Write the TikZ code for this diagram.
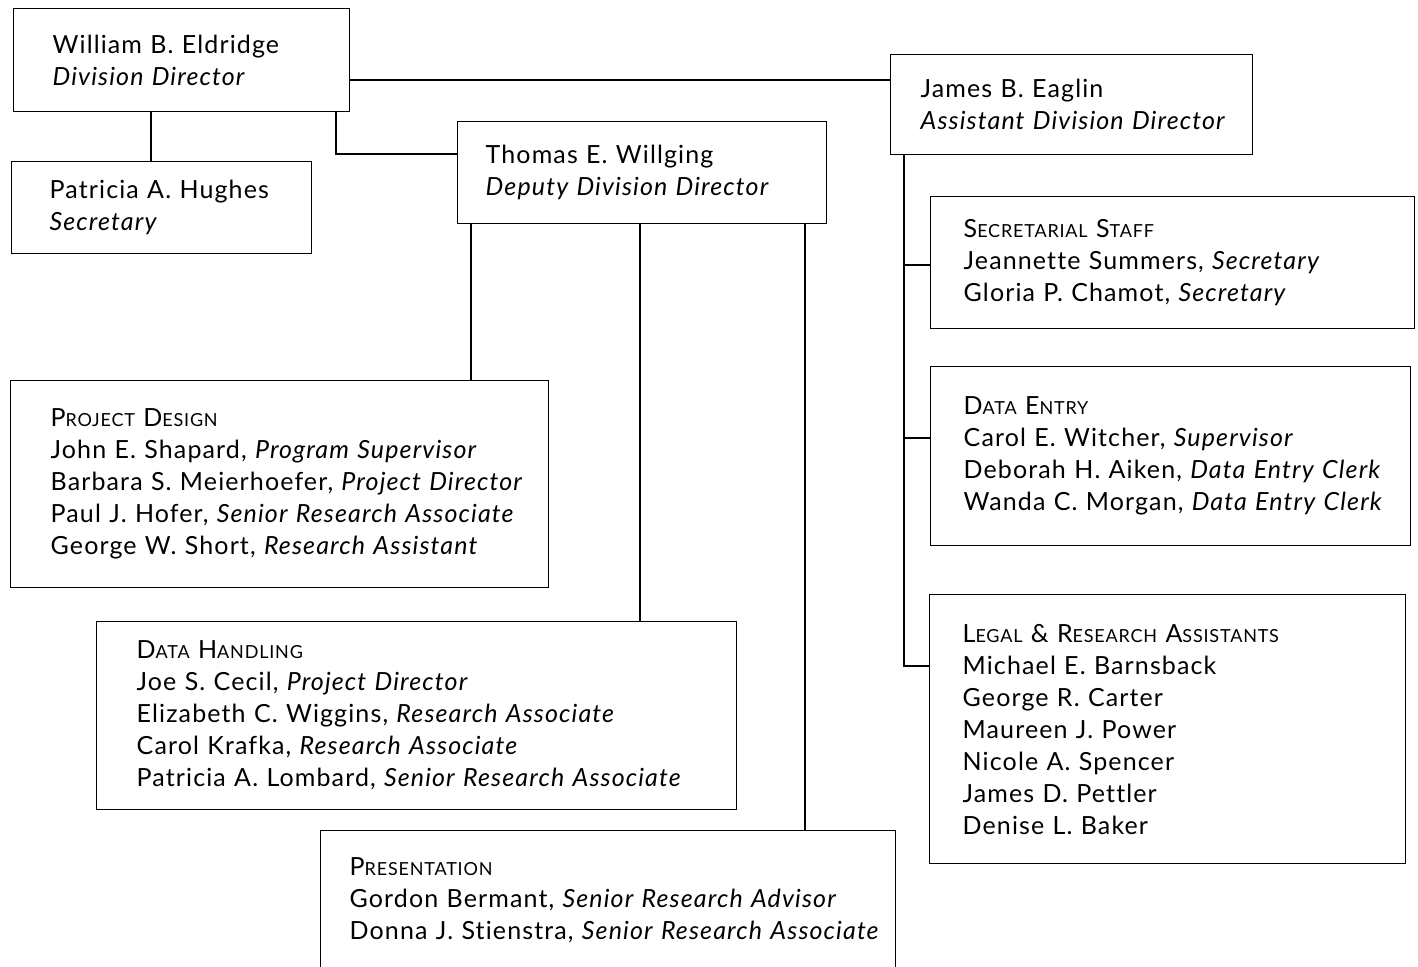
\documentclass[tikz,border=0pt]{standalone}
\usepackage{fontspec}
\setmainfont{Lato}[LetterSpace=4.5, Ligatures=NoCommon]
\newcommand{\hdcap}[2]{#1{\fontsize{18}{32}\selectfont #2}}
\begin{document}
\begin{tikzpicture}[x=1pt,y=-1pt,
  unit/.style={draw, line width=1.4pt, anchor=north west, align=left, inner sep=0pt,
    font=\fontsize{25}{32}\selectfont},
  lpad/.style={execute at begin node={\leftskip=#1pt}},
  every path/.style={line width=1.4pt}]
\useasboundingbox (0,0) rectangle (1418,966);
% directors
\node[unit, lpad=39, text width=336pt, minimum height=103pt] (eld) at (13,8){William B. Eldridge\\\textit{Division Director}};
\node[unit, lpad=38, text width=300pt, minimum height=92pt] (hug) at (11,161){Patricia A. Hughes\\\textit{Secretary}};
\node[unit, lpad=28, text width=369pt, minimum height=102pt] (wil) at (457,121){Thomas E. Willging\\\textit{Deputy Division Director}};
\node[unit, lpad=30, text width=362pt, minimum height=100pt] (eag) at (890,54){James B. Eaglin\\\textit{Assistant Division Director}};
% staff under the assistant director
\node[unit, lpad=33, text width=484pt, minimum height=132pt] (sec) at (930,196){\hdcap{S}{ECRETARIAL} \hdcap{S}{TAFF}\\Jeannette Summers, \textit{Secretary}\\Gloria P. Chamot, \textit{Secretary}};
\node[unit, lpad=33, text width=480pt, minimum height=179pt] (den) at (930,366){\hdcap{D}{ATA} \hdcap{E}{NTRY}\\Carol E. Witcher, \textit{Supervisor}\\Deborah H. Aiken, \textit{Data Entry Clerk}\\Wanda C. Morgan, \textit{Data Entry Clerk}};
\node[unit, lpad=33, text width=476pt, minimum height=269pt] (leg) at (929,594){\hdcap{L}{EGAL} \& \hdcap{R}{ESEARCH} \hdcap{A}{SSISTANTS}\\Michael E. Barnsback\\George R. Carter\\Maureen J. Power\\Nicole A. Spencer\\James D. Pettler\\Denise L. Baker};
% staff under the deputy director
\node[unit, lpad=40, text width=538pt, minimum height=207pt] (prj) at (10,380){\hdcap{P}{ROJECT} \hdcap{D}{ESIGN}\\John E. Shapard, \textit{Program Supervisor}\\Barbara S. Meierhoefer, \textit{Project Director}\\Paul J. Hofer, \textit{Senior Research Associate}\\George W. Short, \textit{Research Assistant}};
\node[unit, lpad=40, text width=640pt, minimum height=188pt] (dat) at (96,621){\hdcap{D}{ATA} \hdcap{H}{ANDLING}\\Joe S. Cecil, \textit{Project Director}\\Elizabeth C. Wiggins, \textit{Research Associate}\\Carol Krafka, \textit{Research Associate}\\Patricia A. Lombard, \textit{Senior Research Associate}};
\node[unit, lpad=29, text width=575pt, minimum height=140pt] (pre) at (320,830){\hdcap{P}{RESENTATION}\\Gordon Bermant, \textit{Senior Research Advisor}\\Donna J. Stienstra, \textit{Senior Research Associate}};
% connectors
\coordinate (ea) at (349,80);
\draw[](ea) -- (ea -| eag.west);
\coordinate (eh) at (151,111);
\draw[](eh) -- (eh |- hug.north);
\coordinate (ew) at (336,154);
\draw[](ew |- eld.south) -- (ew) -- (ew -| wil.west);
\coordinate (wp) at (471,223);
\draw[](wp) -- (wp |- prj.north);
\coordinate (wd) at (640,223);
\draw[](wd) -- (wd |- dat.north);
\coordinate (wr) at (805,223);
\draw[](wr) -- (wr |- pre.north);
\coordinate (as) at (904,265);
\coordinate (ad) at (904,438);
\coordinate (al) at (904,666);
\draw[](as |- eag.south) -- (al) -- (al -| leg.west);
\draw[](as) -- (as -| sec.west);
\draw[](ad) -- (ad -| den.west);

\end{tikzpicture}
\end{document}
